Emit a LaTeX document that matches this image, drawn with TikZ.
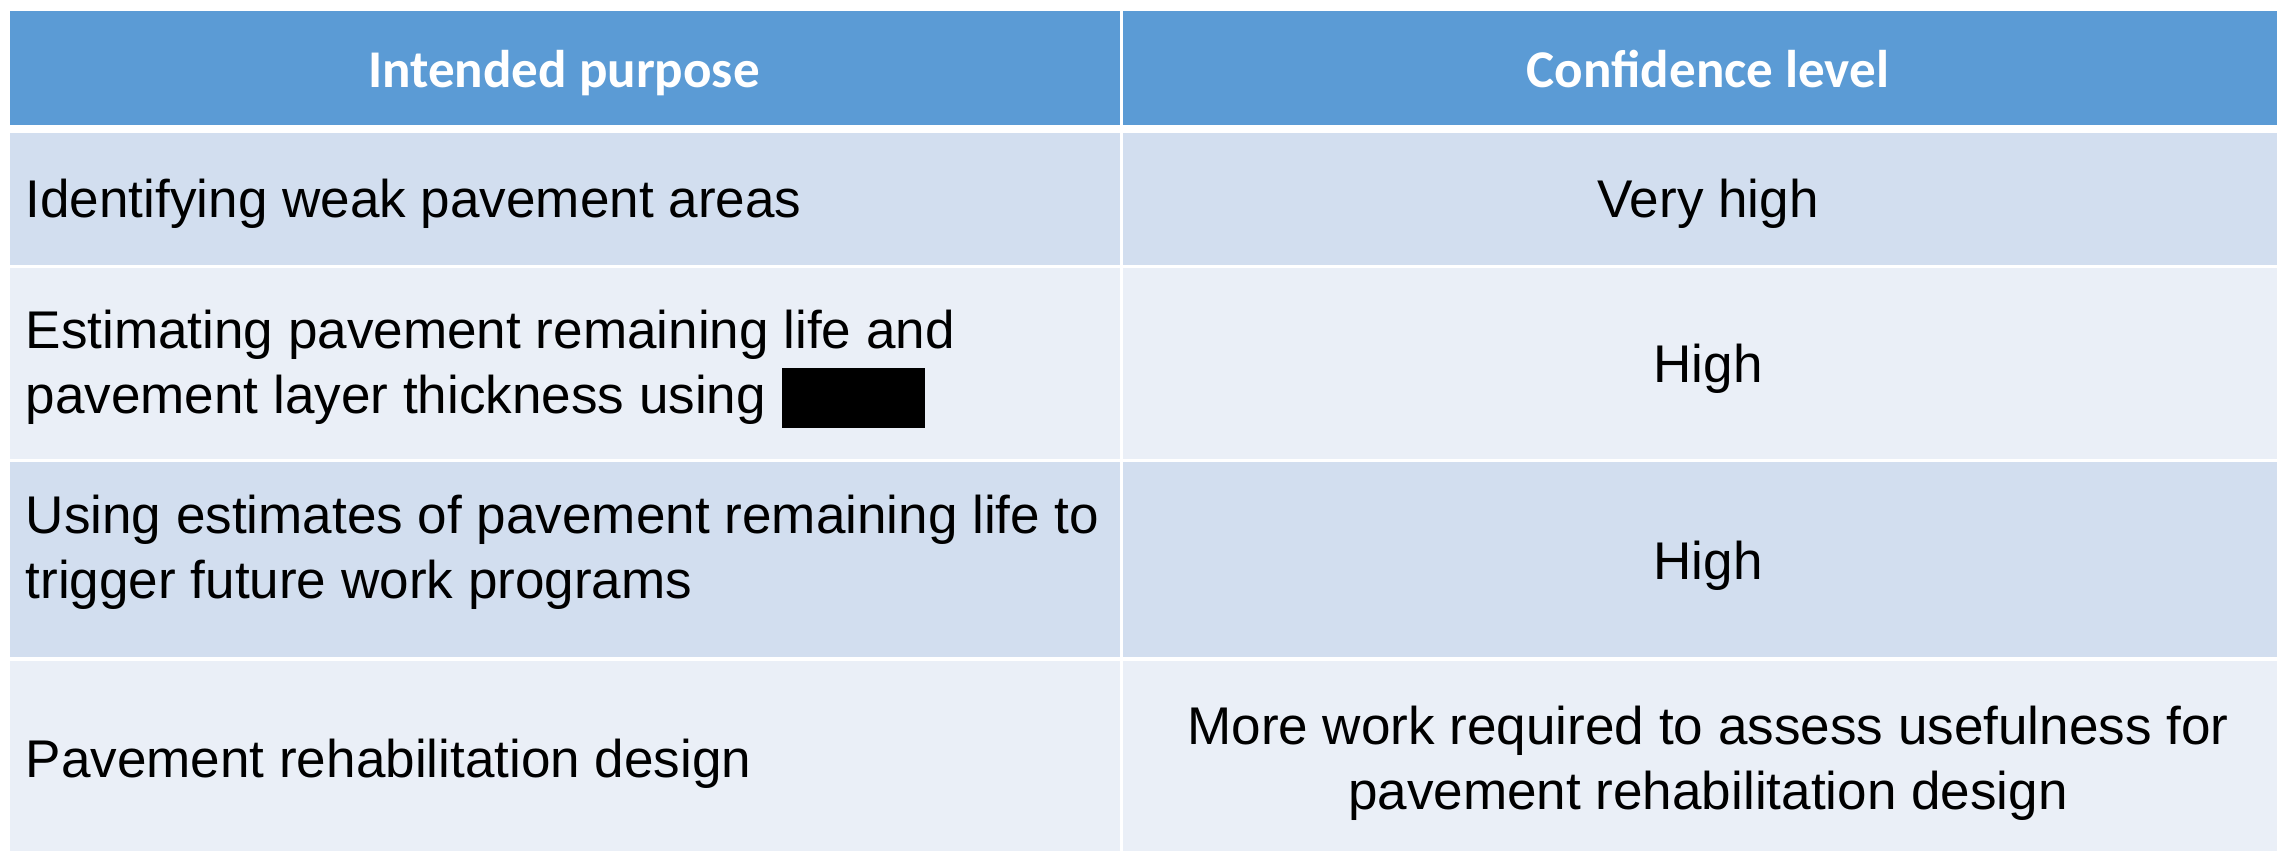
\documentclass[tikz,border=0pt]{standalone}
\usepackage{fontspec}
\setmainfont{Liberation Sans}
\newfontfamily\headfont{Carlito}
\usetikzlibrary{positioning, calc}
\definecolor{headblue}{HTML}{5B9BD5}
\definecolor{rowdark}{HTML}{D2DEEF}
\definecolor{rowlight}{HTML}{EAEFF7}

\begin{document}
\begin{tikzpicture}[x=0.1mm, y=-0.1mm,
    cell/.style={anchor=north west, inner sep=0pt, draw=none},
    lcell/.style={cell, minimum width=111mm},
    rcell/.style={cell, minimum width=115.5mm},
    headtext/.style={anchor=base, inner sep=0pt, text=white, font=\headfont\bfseries\fontsize{15.1}{18}\selectfont},
    bodytext/.style={anchor=base, inner sep=0pt, font=\fontsize{15.1}{18.3}\selectfont}]
        \useasboundingbox (0,0) rectangle (2277,850);
        % header row
        \node[lcell, fill=headblue, minimum height=11.4mm] (H1) at (9,10) {};
        \node[rcell, fill=headblue, minimum height=11.4mm] (H2) at (1122,10) {};
        \node[headtext] (HT1) at (564,87) {Intended purpose};
        \node[headtext] (HT2) at (1708,87) {Confidence level};
        % body rows
        \node[lcell, fill=rowdark, minimum height=13.2mm] (L1) at (9,132) {};
        \node[rcell, fill=rowdark, minimum height=13.2mm] (R1) at (1122,132) {};
        \node[lcell, fill=rowlight, minimum height=19.1mm] (L2) at (9,267) {};
        \node[rcell, fill=rowlight, minimum height=19.1mm] (R2) at (1122,267) {};
        \node[lcell, fill=rowdark, minimum height=19.5mm] (L3) at (9,461) {};
        \node[rcell, fill=rowdark, minimum height=19.5mm] (R3) at (1122,461) {};
        \node[lcell, fill=rowlight, minimum height=19mm] (L4) at (9,660) {};
        \node[rcell, fill=rowlight, minimum height=19mm] (R4) at (1122,660) {};
        % purposes (two-line nodes sit on their last baseline)
        \node[bodytext, anchor=base west] (P1) at (25,217) {Identifying weak pavement areas};
        \node[bodytext, anchor=base west, align=left] (P2) at (25,413) {Estimating pavement remaining life and\\pavement layer thickness using};
        \node[fill=black, anchor=north west, inner sep=0pt, minimum width=14.3mm, minimum height=6mm] (hidden) at (781,367) {};
        \node[bodytext, anchor=base west, align=left] (P3) at (25,598) {Using estimates of pavement remaining life to\\trigger future work programs};
        \node[bodytext, anchor=base west] (P4) at (25,777) {Pavement rehabilitation design};
        % confidence levels
        \node[bodytext] (C1) at (1708,217) {Very high};
        \node[bodytext] (C2) at (1708,382) {High};
        \node[bodytext] (C3) at (1708,579) {High};
        \node[bodytext, align=center] (C4) at (1708,809) {More work required to assess usefulness for\\pavement rehabilitation design};
    \end{tikzpicture}
\end{document}
